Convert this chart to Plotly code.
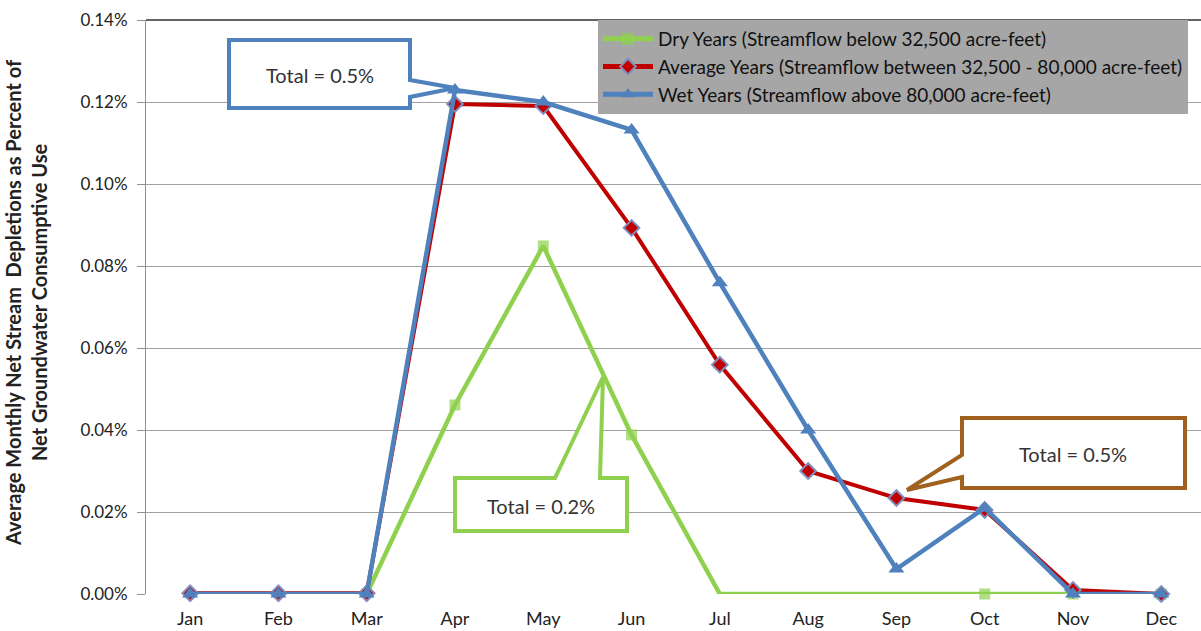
import plotly.graph_objects as go

# data (percent of net groundwater consumptive use)
months = ['Jan', 'Feb', 'Mar', 'Apr', 'May', 'Jun', 'Jul', 'Aug', 'Sep', 'Oct', 'Nov', 'Dec']
dry_years = [0.0, 0.0, 0.0, 0.0461, 0.0849, 0.0388, 0.0, 0.0, 0.0, 0.0, 0.0, 0.0]
average_years = [0.0002, 0.0002, 0.0002, 0.1195, 0.1190, 0.0893, 0.0559, 0.0300, 0.0234, 0.0205, 0.0010, 0.0]
wet_years = [0.0, 0.0, 0.0, 0.1229, 0.1200, 0.1132, 0.0759, 0.0400, 0.0061, 0.0210, 0.0, 0.0]
y_ticks = [0.0, 0.02, 0.04, 0.06, 0.08, 0.10, 0.12, 0.14]

FONT = 'Lato'
W, H = 1201, 631
ML, MR, MT, MB = 146, 0, 20, 37

GREEN = '#8fd14f'
RED = '#c00000'
BLUE = '#4f81bd'
BROWN = '#a0601e'

# excel hides some dry-year markers under the other series
dry_marker_sizes = [0, 0, 0, 11, 11, 11, 0, 0, 0, 11, 11, 11]


def px(x, y):
    """pixel position in the page -> paper coordinates"""
    return (x - ML) / (W - ML - MR), (H - MB - y) / (H - MT - MB)


def callout_path(points):
    parts = []
    for i, (x, y) in enumerate(points):
        px_, py_ = px(x, y)
        parts.append(('M' if i == 0 else 'L') + f'{px_:.5f},{py_:.5f}')
    return ' '.join(parts) + ' Z'


fig = go.Figure()

fig.add_trace(go.Scatter(x=months, y=dry_years, mode='lines+markers',
                         name='Dry Years (Streamflow below 32,500 acre-feet)',
                         line=dict(color=GREEN, width=4.5),
                         marker=dict(symbol='square', size=dry_marker_sizes, color=GREEN,
                                     line=dict(color=GREEN, width=0)),
                         cliponaxis=False, legendgroup='a'))
fig.add_trace(go.Scatter(x=months, y=average_years, mode='lines+markers',
                         name='Average Years (Streamflow between 32,500 - 80,000 acre-feet)',
                         line=dict(color=RED, width=4),
                         marker=dict(symbol='diamond', size=12, color=RED,
                                     line=dict(color='#7f8fbf', width=2)),
                         cliponaxis=False, legendgroup='b'))
fig.add_trace(go.Scatter(x=months, y=wet_years, mode='lines+markers',
                         name='Wet Years (Streamflow above 80,000 acre-feet)',
                         line=dict(color=BLUE, width=4.5),
                         marker=dict(symbol='triangle-up', size=14, color=BLUE),
                         cliponaxis=False, legendgroup='c'))

shapes = []
# top border of the plot area
shapes.append(dict(type='line', xref='paper', yref='paper', x0=0, x1=1, y0=1, y1=1,
                   line=dict(color='#303030', width=1.5), layer='below'))

callouts = [
    (BLUE, [(229, 40), (410, 40), (410, 80), (455, 88), (410, 97), (410, 108), (229, 108)],
     (320, 75), 'Total = 0.5%'),
    (GREEN, [(455, 478), (555, 478), (603, 377), (600, 478), (627, 478), (627, 531), (455, 531)],
     (541, 506), 'Total = 0.2%'),
    (BROWN, [(962, 418), (1185, 418), (1185, 488), (962, 488), (962, 477), (907, 490), (962, 455)],
     (1073, 454), 'Total = 0.5%'),
]
annotations = []
for color, pts, (tx, ty), text in callouts:
    shapes.append(dict(type='path', xref='paper', yref='paper', path=callout_path(pts),
                       fillcolor='white', line=dict(color=color, width=4), layer='above'))
    ax_, ay_ = px(tx, ty)
    annotations.append(dict(text=text, x=ax_, y=ay_, xref='paper', yref='paper',
                            xanchor='center', yanchor='middle', showarrow=False,
                            font=dict(family=FONT, size=20, color='#333333')))

tx, ty = px(26, 303)
annotations.append(dict(text='Average Monthly Net Stream  Depletions as Percent of<br>Net Groundwater Consumptive Use',
                        x=tx, y=ty, xref='paper', yref='paper', textangle=-90, showarrow=False,
                        xanchor='center', yanchor='middle',
                        font=dict(family=FONT, size=20, color='#222222', weight='bold')))

lx, ly = px(598, 20)
fig.update_layout(
    width=W, height=H,
    margin=dict(l=ML, r=MR, t=MT, b=MB),
    paper_bgcolor='white', plot_bgcolor='white',
    font=dict(family=FONT, size=16, color='#222222'),
    showlegend=True,
    legend=dict(x=lx, y=ly, xanchor='left', yanchor='top', bgcolor='#a6a6a6',
                font=dict(family=FONT, size=19, color='#111111'),
                itemwidth=50, itemsizing='constant', tracegroupgap=0, traceorder='grouped'),
    shapes=shapes,
    annotations=annotations,
    xaxis=dict(type='category', range=[-0.5, 11.45], showgrid=False, zeroline=False,
               showline=False, ticks='', ticklabelstandoff=12, fixedrange=True,
               tickfont=dict(size=18)),
    yaxis=dict(range=[0, 0.14], tickvals=y_ticks, ticktext=[f'{v:.2f}%' for v in y_ticks],
               showgrid=True, gridcolor='#a0a0a0', gridwidth=1, zeroline=False,
               showline=True, linecolor='#909090', linewidth=1, ticks='outside',
               ticklen=8, tickcolor='#909090', ticklabelstandoff=6, fixedrange=True,
               tickfont=dict(size=17)),
)

# page has a default 8px body margin; remove it so the figure fills the window
fig.write_html('out.html', config={'displayModeBar': False},
               post_script="document.body.style.margin='0';")
